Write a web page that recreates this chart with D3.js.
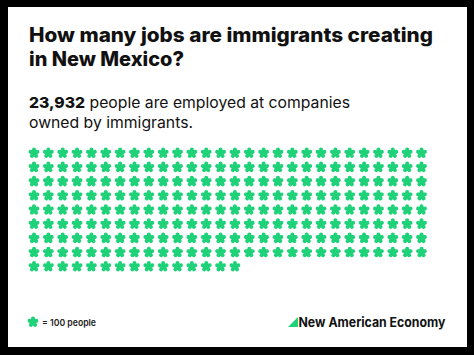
<!DOCTYPE html>
<html>
<head>
<meta charset="utf-8">
<script src="https://cdn.jsdelivr.net/npm/d3@7"></script>
<style>
html,body{margin:0;padding:0;background:#000;}
svg{display:block;}
</style>
</head>
<body>
<script>
// ---- data ----
const titleLines = ["How many jobs are immigrants creating", "in New Mexico?"];
const employedCount = 23932;
const employedLabel = "23,932";
const subtitleRest = [" people are employed at companies", "owned by immigrants."];
const peoplePerIcon = 100;
const iconColumns = 28;
const legendLabel = "= 100 people";
const logoLabel = "New American Economy";

const W = 474, H = 355;
const green = "#1fd27a";
const svg = d3.select("body").append("svg").attr("width", W).attr("height", H);

svg.append("rect").attr("width", W).attr("height", H).attr("fill", "#000");
svg.append("rect").attr("x", 8).attr("y", 7).attr("width", 459).attr("height", 340).attr("fill", "#fff");

const font = "Inter, 'Liberation Sans', sans-serif";

// title
const tW = [404, 155];
titleLines.forEach((t, i) => {
  svg.append("text").attr("x", 29).attr("y", 42 + i * 24)
    .attr("font-family", font).attr("font-weight", 800).attr("font-size", 19.5)
    .attr("fill", "#111").attr("textLength", tW[i]).attr("lengthAdjust", "spacingAndGlyphs")
    .text(t);
});

// subtitle
const s1 = svg.append("text").attr("x", 29).attr("y", 108)
  .attr("font-family", font).attr("font-size", 15).attr("fill", "#111")
  .attr("textLength", 321).attr("lengthAdjust", "spacingAndGlyphs");
s1.append("tspan").attr("font-weight", 800).text(employedLabel);
s1.append("tspan").attr("font-weight", 400).text(subtitleRest[0]);
svg.append("text").attr("x", 29).attr("y", 128)
  .attr("font-family", font).attr("font-size", 15).attr("fill", "#111")
  .attr("textLength", 164).attr("lengthAdjust", "spacingAndGlyphs")
  .text(subtitleRest[1]);

// icon grid
const nIcons = Math.floor(employedCount / peoplePerIcon);
const icons = d3.range(nIcons).map(i => ({col: i % iconColumns, row: Math.floor(i / iconColumns)}));
const nRows = Math.ceil(nIcons / iconColumns);
const x = d3.scaleLinear().domain([0, iconColumns - 1]).range([34, 421.5]);
const y = d3.scaleLinear().domain([0, nRows - 1]).range([153, 266.5]);

function starPath(r) {
  const p = d3.path();
  for (let k = 0; k < 5; k++) {
    const a = -Math.PI / 2 + k * 2 * Math.PI / 5;
    p.moveTo(0, 0);
    p.lineTo(r * Math.cos(a), r * Math.sin(a));
  }
  return p.toString();
}
const sp = starPath(3.6);

svg.append("g").selectAll("path").data(icons).join("path")
  .attr("transform", d => `translate(${x(d.col)},${y(d.row)})`)
  .attr("d", sp).attr("fill", "none").attr("stroke", green)
  .attr("stroke-width", 4).attr("stroke-linecap", "round");

// legend
svg.append("path").attr("transform", "translate(33,322)")
  .attr("d", sp).attr("fill", "none").attr("stroke", green)
  .attr("stroke-width", 4).attr("stroke-linecap", "round");
svg.append("text").attr("x", 42).attr("y", 325.5)
  .attr("font-family", font).attr("font-weight", 600).attr("font-size", 9.5)
  .attr("fill", "#222").attr("textLength", 54).attr("lengthAdjust", "spacingAndGlyphs")
  .text(legendLabel);

// logo
svg.append("path").attr("d", "M288,327 L298,317 L298,327 Z").attr("fill", green);
svg.append("text").attr("x", 298.5).attr("y", 327)
  .attr("font-family", font).attr("font-weight", 700).attr("font-size", 13)
  .attr("fill", "#111").attr("textLength", 147).attr("lengthAdjust", "spacingAndGlyphs")
  .text(logoLabel);
</script>
</body>
</html>
